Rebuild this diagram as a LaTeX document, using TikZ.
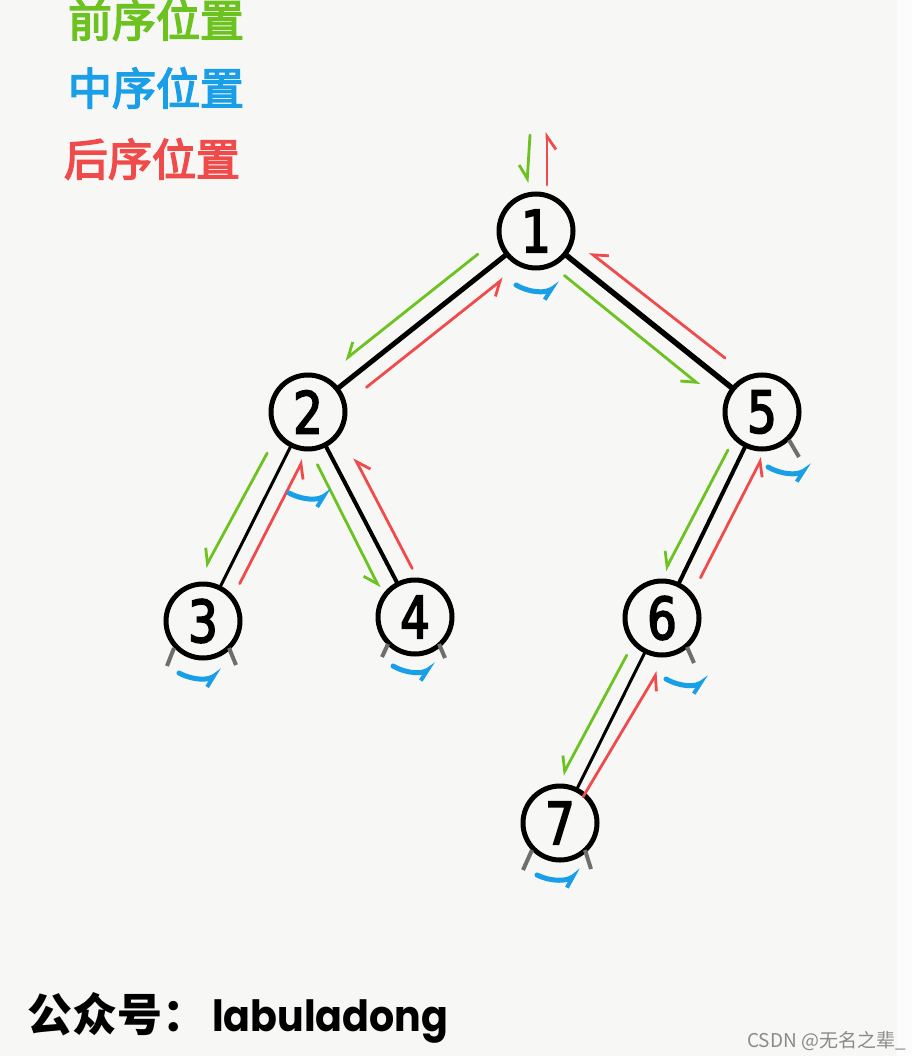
\documentclass[tikz,border=0pt]{standalone}
\usepackage{fontspec}
\usetikzlibrary{arrows.meta,calc}
\newfontfamily\cjk{Noto Sans CJK SC}
\newfontfamily\cjkmed{Noto Sans CJK SC}[FakeBold=3.5]
\newfontfamily\digitfont{DejaVu Sans}[FakeStretch=0.8, FakeBold=3]
\newfontfamily\latinfont{Poppins}[FakeStretch=0.92]
\definecolor{bg}{HTML}{F7F7F6}
\definecolor{strip}{HTML}{FCFCFC}
\definecolor{lgreen}{HTML}{6CC21E}
\definecolor{lblue}{HTML}{189FE8}
\definecolor{lred}{HTML}{F04B4B}
\definecolor{tickgray}{HTML}{6E6E6E}
\definecolor{wmgray}{HTML}{8A8A8A}
\newcommand\travarrow[7]{\draw[#7] ($(#1)!#3!(#2)!#4!90:(#2)$) -- ($(#1)!#5!(#2)!#6!90:(#2)$);}
\begin{document}
\begin{tikzpicture}[x=1pt,y=-1pt,
  tnode/.style={circle, draw=black, line width=5pt, minimum size=74pt, inner sep=0pt, fill=bg,
    font=\digitfont\fontsize{58}{58}\selectfont},
  edge/.style={draw=black, line cap=round},
  prearrow/.style={draw=lgreen, line width=2.8pt, line cap=round,
    -{Straight Barb[right, length=13pt, width=18pt, line width=2.8pt]}},
  postarrow/.style={draw=lred, line width=2.8pt, line cap=round,
    -{Straight Barb[right, length=13pt, width=18pt, line width=2.8pt]}},
  inarrow/.style={draw=lblue, line width=5pt, line cap=round,
    -{Straight Barb[right, length=12pt, width=10pt, line width=4pt]}},
  nulltick/.style={draw=tickgray, line width=4pt},
  legend/.style={font=\cjkmed\fontsize{44}{44}\selectfont}
]
\fill[bg] (0,0) rectangle (897,1056);
\fill[strip] (897,0) rectangle (912,1056);
\useasboundingbox (0,0) rectangle (912,1056);

% legend
\node[legend, text=lgreen] (lpre) at (156,20) {前序位置};
\node[legend, text=lblue] (lin) at (156,88) {中序位置};
\node[legend, text=lred] (lpost) at (152,159) {后序位置};

% tree nodes
\node[tnode] (n1) at (536,231) {1};
\node[tnode] (n2) at (308,412) {2};
\node[tnode] (n5) at (762,412) {5};
\node[tnode] (n3) at (203,621) {3};
\node[tnode] (n4) at (415,617) {4};
\node[tnode] (n6) at (662,618) {6};
\node[tnode] (n7) at (560,823) {7};

% edges
\draw[edge, line width=5pt] (n1) -- (n2);
\draw[edge, line width=5.5pt] (n1) -- (n5);
\draw[edge, line width=3pt] (n2) -- (n3);
\draw[edge, line width=4pt] (n2) -- (n4);
\draw[edge, line width=4pt] (n5) -- (n6);
\draw[edge, line width=3pt] (n6) -- (n7);

% null child ticks
\draw[nulltick] ($(n3)+(-29,27)$) -- ($(n3)+(-36,45)$);
\draw[nulltick] ($(n3)+(26,27)$) -- ($(n3)+(33,44)$);
\draw[nulltick] ($(n4)+(-27,27)$) -- ($(n4)+(-33,40)$);
\draw[nulltick] ($(n4)+(24,27)$) -- ($(n4)+(30,41)$);
\draw[nulltick] ($(n5)+(27,28)$) -- ($(n5)+(37,45)$);
\draw[nulltick] ($(n6)+(25,29)$) -- ($(n6)+(32,45)$);
\draw[nulltick] ($(n7)+(-28,27)$) -- ($(n7)+(-37,47)$);
\draw[nulltick] ($(n7)+(25,27)$) -- ($(n7)+(31,46)$);

% entry / exit at root
\draw[prearrow] ($(n1)+(-6,-96)$) -- ($(n1)+(-9,-48)$);
\draw[postarrow] ($(n1)+(11,-46)$) -- ($(n1)+(11,-99)$);

% preorder (green) and postorder (red) along edges
\travarrow{n1}{n2}{60pt}{-18pt}{230pt}{-18pt}{prearrow}
\travarrow{n1}{n2}{230pt}{17pt}{55pt}{17pt}{postarrow}
\travarrow{n1}{n5}{50pt}{-17pt}{224pt}{-18pt}{prearrow}
\travarrow{n1}{n5}{227pt}{19pt}{55pt}{17pt}{postarrow}
\travarrow{n2}{n3}{55pt}{-18pt}{185pt}{-22pt}{prearrow}
\travarrow{n2}{n3}{184pt}{16pt}{45pt}{17pt}{postarrow}
\travarrow{n2}{n4}{51pt}{-16pt}{189pt}{-18pt}{prearrow}
\travarrow{n2}{n4}{187pt}{20pt}{62pt}{20pt}{postarrow}
\travarrow{n5}{n6}{49pt}{-14pt}{185pt}{-18pt}{prearrow}
\travarrow{n5}{n6}{176pt}{17pt}{41pt}{20pt}{postarrow}
\travarrow{n6}{n7}{49pt}{-15pt}{185pt}{-19pt}{prearrow}
\travarrow{n6}{n7}{195pt}{9pt}{50pt}{20pt}{postarrow}

% inorder (blue) arcs
\draw[inarrow] ($(n1)+(-20,54)$) to[bend right=32] ($(n1)+(24,52)$);
\draw[inarrow] ($(n2)+(-19,81)$) to[bend right=32] ($(n2)+(24,78)$);
\draw[inarrow] ($(n3)+(-24,52)$) to[bend right=32] ($(n3)+(19,49)$);
\draw[inarrow] ($(n4)+(-22,49)$) to[bend right=32] ($(n4)+(21,47)$);
\draw[inarrow] ($(n5)+(6,55)$) to[bend right=32] ($(n5)+(50,53)$);
\draw[inarrow] ($(n6)+(4,61)$) to[bend right=32] ($(n6)+(47,59)$);
\draw[inarrow] ($(n7)+(-23,52)$) to[bend right=32] ($(n7)+(21,47)$);

% footer
\node[anchor=west, inner sep=0pt] (brand) at (27,1018)
  {{\cjk\bfseries\fontsize{45}{45}\selectfont 公众号：}\hspace{5pt}{\latinfont\bfseries\fontsize{43}{43}\selectfont labuladong}};
\node[anchor=east, inner sep=0pt, text=wmgray, font=\cjk\fontsize{19}{19}\selectfont] (wm) at (906,1041) {CSDN @无名之辈\_};
\end{tikzpicture}
\end{document}
